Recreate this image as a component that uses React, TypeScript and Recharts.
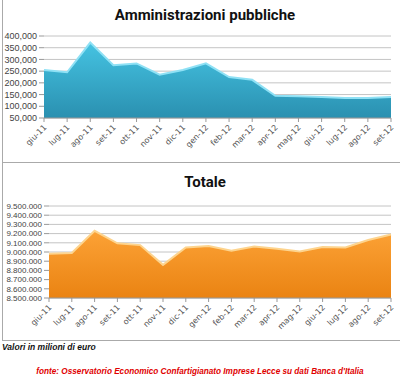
import { AreaChart, Area, XAxis, YAxis, CartesianGrid } from "recharts";

const mesi = [
  "giu-11", "lug-11", "ago-11", "set-11", "ott-11", "nov-11", "dic-11", "gen-12",
  "feb-12", "mar-12", "apr-12", "mag-12", "giu-12", "lug-12", "ago-12", "set-12",
];
const pubbliche = [
  255000, 245000, 372000, 275000, 283000, 235000, 255000, 283000,
  225000, 213000, 145000, 143000, 140000, 135000, 135000, 140000,
];
const totale = [
  8980000, 8990000, 9230000, 9095000, 9075000, 8860000, 9050000, 9065000,
  9015000, 9060000, 9035000, 9005000, 9055000, 9050000, 9130000, 9190000,
];
const ticksPubbliche = [50000, 100000, 150000, 200000, 250000, 300000, 350000, 400000];
const ticksTotale = [
  8500000, 8600000, 8700000, 8800000, 8900000, 9000000,
  9100000, 9200000, 9300000, 9400000, 9500000,
];

const datiPubbliche = mesi.map((m, i) => ({ mese: m, valore: pubbliche[i] }));
const datiTotale = mesi.map((m, i) => ({ mese: m, valore: totale[i] }));

const fmtComma = (v: number) => v.toLocaleString("en-US");
const fmtDot = (v: number) => v.toLocaleString("en-US").replace(/,/g, ".");

const MeseTick = (props: any) => {
  const { x, y, payload } = props;
  return (
    <g transform={`translate(${x + 3},${y + 4})`}>
      <text
        textAnchor="end"
        transform="rotate(-45)"
        fontSize={8}
        fontFamily="DejaVu Sans"
        fill="#555"
      >
        {payload.value}
      </text>
    </g>
  );
};

const titolo = {
  position: "absolute" as const,
  left: 0,
  width: 410,
  textAlign: "center" as const,
  fontFamily: "'Liberation Sans Narrow', Roboto, sans-serif",
  fontWeight: 700,
  fontSize: 15,
  color: "#111",
};

export default function App() {
  return (
    <div
      style={{
        position: "absolute",
        left: 0,
        top: 0,
        width: 400,
        height: 380,
        background: "#fff",
        overflow: "hidden",
      }}
    >
      {/* cornici dei due pannelli */}
      <div style={{ position: "absolute", left: 2, top: 0, width: 397, height: 162, borderLeft: "1px solid #aaa", borderBottom: "1px solid #aaa" }} />
      <div style={{ position: "absolute", left: 2, top: 163, width: 397, height: 177, borderLeft: "1px solid #aaa", borderBottom: "1px solid #aaa" }} />

      <div style={{ ...titolo, top: 6 }}>Amministrazioni pubbliche</div>
      <div style={{ position: "absolute", left: 0, top: 0 }}>
        <AreaChart width={400} height={161} data={datiPubbliche} margin={{ top: 36, right: 9, bottom: 2, left: 2 }}>
          <defs>
            <linearGradient id="gradBlu" x1="0" y1="0" x2="0" y2="1">
              <stop offset="0%" stopColor="#45c3e2" />
              <stop offset="100%" stopColor="#2a90b0" />
            </linearGradient>
          </defs>
          <CartesianGrid vertical={false} stroke="#c4c4c4" />
          <XAxis
            dataKey="mese"
            interval={0}
            height={41}
            tick={<MeseTick />}
            stroke="#999"
            tickSize={4}
          />
          <YAxis
            domain={[50000, 400000]}
            ticks={ticksPubbliche}
            interval={0}
            tickFormatter={fmtComma}
            width={42}
            axisLine={false}
            tickLine={{ stroke: "#999" }}
            tickSize={5}
            tick={{ fontSize: 9, fill: "#444", fontFamily: "Liberation Sans" }}
          />
          <Area
            type="linear"
            dataKey="valore"
            stroke="#8fe1f5"
            strokeWidth={2}
            fill="url(#gradBlu)"
            fillOpacity={1}
            isAnimationActive={false}
          />
        </AreaChart>
      </div>

      <div style={{ ...titolo, top: 173 }}>Totale</div>
      <div style={{ position: "absolute", left: 0, top: 163 }}>
        <AreaChart width={400} height={176} data={datiTotale} margin={{ top: 43, right: 9, bottom: 2, left: 2 }}>
          <defs>
            <linearGradient id="gradArancio" x1="0" y1="0" x2="0" y2="1">
              <stop offset="0%" stopColor="#fca236" />
              <stop offset="100%" stopColor="#ea8312" />
            </linearGradient>
          </defs>
          <CartesianGrid vertical={false} stroke="#c4c4c4" />
          <XAxis
            dataKey="mese"
            interval={0}
            height={39}
            tick={<MeseTick />}
            stroke="#999"
            tickSize={4}
          />
          <YAxis
            domain={[8500000, 9500000]}
            ticks={ticksTotale}
            interval={0}
            tickFormatter={fmtDot}
            width={47}
            axisLine={false}
            tickLine={{ stroke: "#999" }}
            tickSize={5}
            tick={{ fontSize: 8, fill: "#444", fontFamily: "Liberation Sans" }}
          />
          <Area
            type="linear"
            dataKey="valore"
            stroke="#fdd48e"
            strokeWidth={2}
            fill="url(#gradArancio)"
            fillOpacity={1}
            isAnimationActive={false}
          />
        </AreaChart>
      </div>

      <div
        style={{
          position: "absolute",
          left: 2,
          top: 342,
          fontFamily: "Liberation Sans",
          fontWeight: 700,
          fontStyle: "italic",
          fontSize: 8.5,
          color: "#111",
        }}
      >
        Valori in milioni di euro
      </div>
      <div
        style={{
          position: "absolute",
          left: 0,
          width: 400,
          top: 367,
          textAlign: "center",
          fontFamily: "Liberation Sans",
          fontWeight: 700,
          fontStyle: "italic",
          fontSize: 8.2,
          color: "#e00000",
        }}
      >
        fonte: Osservatorio Economico Confartigianato Imprese Lecce su dati Banca d'Italia
      </div>
    </div>
  );
}
